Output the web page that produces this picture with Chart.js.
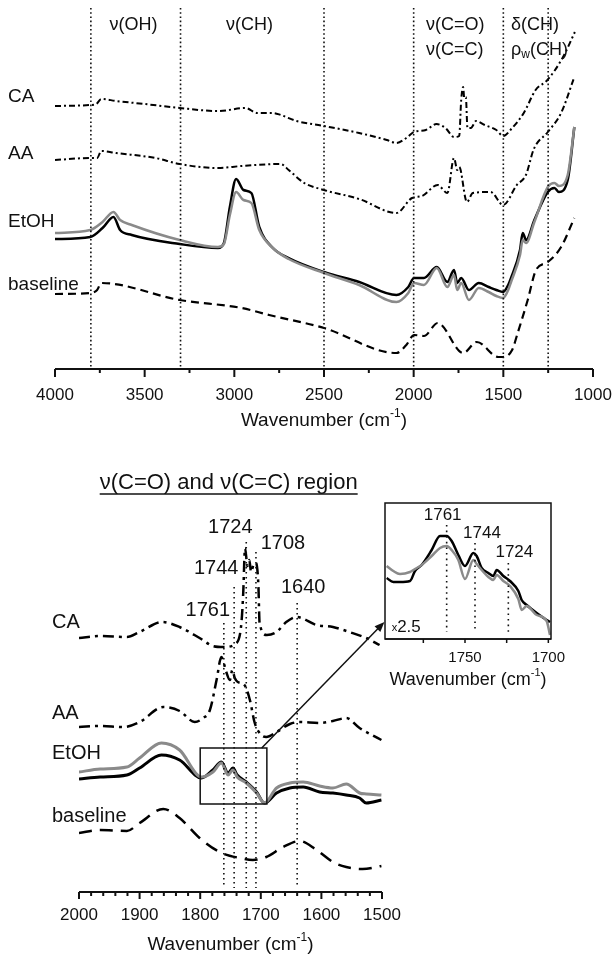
<!DOCTYPE html>
<html>
<head>
<meta charset="utf-8">
<script src="https://cdn.jsdelivr.net/npm/chart.js@4.4.1/dist/chart.umd.min.js"></script>
<style>
  body { margin: 0; background: #fff; }
  #wrap { position: relative; width: 612px; height: 957px; overflow: hidden; }
  canvas { position: absolute; }
</style>
</head>
<body>
<div id="wrap">
  <canvas id="topChart" style="left:0;top:0;width:612px;height:440px" width="612" height="440"></canvas>
  <canvas id="bottomChart" style="left:0;top:440px;width:612px;height:517px" width="612" height="517"></canvas>
  <canvas id="insetChart" style="left:360px;top:482px;width:252px;height:220px" width="252" height="220"></canvas>
</div>
<script>
// ---- data: top panel (full range), offset absorbance in a.u.

const topCAWn = [4000, 3803, 3770, 3742, 3659, 3500, 3305, 3091, 2938, 2872, 2785, 2741, 2653, 2500, 2304, 2150, 2096, 2041, 1998, 1932, 1873, 1823, 1775, 1746, 1735, 1724, 1718, 1709, 1700, 1681, 1652, 1604, 1539, 1501, 1451, 1386, 1320, 1254, 1167, 1101];
const topCA = [2.63, 2.64, 2.65, 2.70, 2.68, 2.65, 2.61, 2.58, 2.61, 2.56, 2.56, 2.54, 2.48, 2.43, 2.36, 2.29, 2.26, 2.31, 2.37, 2.39, 2.45, 2.41, 2.32, 2.33, 2.69, 2.82, 2.71, 2.72, 2.41, 2.41, 2.48, 2.44, 2.39, 2.33, 2.41, 2.56, 2.79, 2.89, 3.12, 3.37];

const topAAWn = [4000, 3803, 3765, 3742, 3659, 3440, 3305, 3091, 2959, 2741, 2697, 2610, 2500, 2304, 2096, 2009, 1954, 1866, 1812, 1775, 1757, 1746, 1703, 1670, 1571, 1501, 1425, 1374, 1330, 1252, 1178, 1104];
const topAA = [2.09, 2.11, 2.11, 2.18, 2.16, 2.11, 2.05, 2.01, 2.03, 2.05, 1.99, 1.86, 1.79, 1.70, 1.56, 1.71, 1.73, 1.84, 1.76, 2.11, 1.99, 2.02, 1.67, 1.76, 1.77, 1.64, 1.84, 1.94, 2.20, 2.37, 2.56, 2.92];

const topEtWn = [4000, 3803, 3735, 3674, 3637, 3572, 3305, 3091, 3058, 3025, 2990, 2949, 2905, 2861, 2785, 2697, 2500, 2304, 2096, 2030, 1998, 1943, 1871, 1812, 1775, 1757, 1735, 1692, 1637, 1582, 1539, 1501, 1473, 1457, 1407, 1392, 1373, 1327, 1252, 1215, 1190, 1141, 1104];
const topEtBlack = [1.30, 1.32, 1.41, 1.52, 1.39, 1.34, 1.25, 1.21, 1.26, 1.62, 1.90, 1.79, 1.76, 1.42, 1.21, 1.11, 0.97, 0.87, 0.74, 0.82, 0.91, 0.91, 1.02, 0.87, 0.99, 0.86, 0.91, 0.79, 0.86, 0.82, 0.79, 0.77, 0.84, 0.91, 1.19, 1.36, 1.29, 1.49, 1.77, 1.81, 1.77, 1.89, 2.42];
const topEtGrey = [1.36, 1.39, 1.47, 1.57, 1.49, 1.44, 1.29, 1.22, 1.25, 1.54, 1.77, 1.69, 1.66, 1.39, 1.21, 1.10, 0.96, 0.84, 0.67, 0.76, 0.86, 0.84, 1.01, 0.82, 0.94, 0.79, 0.86, 0.69, 0.81, 0.77, 0.73, 0.71, 0.79, 0.87, 1.14, 1.29, 1.26, 1.47, 1.82, 1.86, 1.83, 1.94, 2.42];

const topBaseWn = [4000, 3803, 3765, 3742, 3305, 2959, 2806, 2500, 2096, 2041, 1998, 1943, 1866, 1724, 1648, 1528, 1503, 1451, 1420, 1364, 1318, 1252, 1178, 1104];
const topBase = [0.75, 0.76, 0.79, 0.86, 0.69, 0.61, 0.54, 0.41, 0.16, 0.24, 0.34, 0.33, 0.46, 0.16, 0.27, 0.12, 0.12, 0.19, 0.36, 0.69, 0.99, 1.07, 1.22, 1.51];

const topTicks = [4000, 3500, 3000, 2500, 2000, 1500, 1000];
const topMinorTicks = [3750, 3250, 2750, 2250, 1750, 1250];
const topGuides = [3800, 3300, 2500, 2000, 1500, 1250];

// ---- data: bottom panel, v(C=O) and v(C=C) region

const botCAWn = [2000, 1965, 1921, 1900, 1863, 1834, 1801, 1779, 1761, 1740, 1732, 1729, 1726, 1722, 1719, 1716, 1712, 1708, 1704, 1702, 1690, 1674, 1658, 1641, 1608, 1581, 1554, 1526, 1504];
const botCA = [2.54, 2.56, 2.55, 2.60, 2.70, 2.65, 2.54, 2.46, 2.45, 2.49, 2.69, 2.99, 3.44, 3.26, 3.32, 3.20, 3.27, 3.29, 3.07, 2.69, 2.57, 2.60, 2.70, 2.75, 2.67, 2.65, 2.60, 2.54, 2.47];

const botAAWn = [2000, 1965, 1927, 1900, 1861, 1834, 1809, 1795, 1784, 1773, 1765, 1757, 1751, 1747, 1743, 1738, 1727, 1718, 1710, 1699, 1691, 1674, 1652, 1636, 1603, 1581, 1559, 1537, 1501];
const botAA = [1.65, 1.66, 1.65, 1.70, 1.85, 1.81, 1.70, 1.74, 1.82, 2.12, 2.35, 2.20, 2.12, 2.22, 2.14, 2.10, 2.07, 1.92, 1.69, 1.57, 1.55, 1.60, 1.68, 1.70, 1.69, 1.71, 1.74, 1.64, 1.52];

const botEtWn = [2000, 1965, 1921, 1900, 1864, 1834, 1798, 1779, 1765, 1754, 1746, 1739, 1724, 1707, 1694, 1674, 1652, 1630, 1603, 1581, 1559, 1537, 1526, 1501];
const botEtBlack = [1.13, 1.15, 1.17, 1.24, 1.37, 1.32, 1.14, 1.22, 1.30, 1.19, 1.24, 1.17, 1.10, 1.00, 0.89, 0.99, 1.04, 1.05, 1.00, 0.99, 0.97, 0.94, 0.89, 0.92];
const botEtGrey = [1.20, 1.23, 1.25, 1.34, 1.49, 1.42, 1.15, 1.20, 1.29, 1.17, 1.22, 1.15, 1.09, 0.99, 0.89, 1.04, 1.09, 1.10, 1.06, 1.04, 1.08, 0.99, 0.98, 0.97];

const botBaseWn = [2000, 1965, 1921, 1900, 1861, 1834, 1801, 1768, 1735, 1713, 1691, 1663, 1636, 1608, 1581, 1559, 1532, 1501];
const botBase = [0.59, 0.62, 0.61, 0.69, 0.83, 0.74, 0.54, 0.40, 0.34, 0.32, 0.35, 0.45, 0.51, 0.42, 0.30, 0.25, 0.23, 0.26];

const botTicks = [2000, 1900, 1800, 1700, 1600, 1500];
const botMinorTicks = [1980, 1960, 1940, 1920, 1880, 1860, 1840, 1820, 1780, 1760, 1740, 1720, 1680, 1660, 1640, 1620, 1580, 1560, 1540, 1520];
const botPeaks = [1761, 1744, 1724, 1708, 1640];
const botPeakTop = [2.69, 3.05, 3.50, 3.40, 2.89];
const botPeakLabelY = [2.82, 3.24, 3.65, 3.49, 3.05];
const botPeakLabelDx = [-16, -18, -16, 27, 6];

// ---- data: inset (x2.5), EtOH only

const insetWn = [1797, 1793, 1789, 1783, 1780, 1776, 1770, 1765, 1761, 1758, 1754, 1750, 1745, 1743, 1740, 1736, 1733, 1731, 1727, 1723, 1718, 1716, 1713, 1707, 1701, 1699];
const insetBlack = [0.61, 0.57, 0.57, 0.58, 0.68, 0.74, 0.89, 1.03, 1.03, 0.98, 0.84, 0.73, 0.86, 0.83, 0.71, 0.66, 0.63, 0.69, 0.63, 0.58, 0.48, 0.39, 0.34, 0.26, 0.19, 0.17];
const insetGrey = [0.73, 0.68, 0.65, 0.67, 0.70, 0.74, 0.83, 0.91, 0.93, 0.89, 0.79, 0.60, 0.79, 0.75, 0.69, 0.62, 0.59, 0.64, 0.58, 0.53, 0.40, 0.29, 0.33, 0.24, 0.18, 0.04];
const insetTicks = [1750, 1700];
const insetMinorTicks = [1775, 1725];
const insetPeaks = [1761, 1744, 1724];
const insetPeakTop = [1.14, 0.96, 0.76];
const insetPeakLabelY = [1.24, 1.06, 0.87];
const insetPeakLabelDx = [-4, 7, 6];

// ----

const FONT = '"Liberation Sans", Arial, sans-serif';
const INK = "#111";
const GREY = "#8a8a8a";

function series(wn, vals) {
  return wn.map((w, i) => ({ x: w, y: vals[i] }));
}

function line(data, color, width, dash) {
  return {
    data,
    borderColor: color,
    borderWidth: width,
    borderDash: dash || [],
    pointRadius: 0,
    fill: false,
    cubicInterpolationMode: "monotone",
  };
}

// draws text made of pieces [text, size, dy]
function drawRich(ctx, parts, x, y, align) {
  let w = 0;
  parts.forEach((p) => {
    ctx.font = p[1] + "px " + FONT;
    w += ctx.measureText(p[0]).width;
  });
  let cx = align === "center" ? x - w / 2 : x;
  ctx.textAlign = "left";
  ctx.textBaseline = "middle";
  ctx.fillStyle = INK;
  parts.forEach((p) => {
    ctx.font = p[1] + "px " + FONT;
    ctx.fillText(p[0], cx, y + (p[2] || 0));
    cx += ctx.measureText(p[0]).width;
  });
  return w;
}

// axis line, major/minor tick marks and tick labels, placed with the x scale
function drawAxis(chart, major, minor, majorLen, minorLen, width, labelSize, labelDy) {
  const ctx = chart.ctx;
  const x = chart.scales.x;
  const a = chart.chartArea;
  ctx.save();
  ctx.strokeStyle = INK;
  ctx.lineWidth = width;
  ctx.setLineDash([]);
  ctx.beginPath();
  ctx.moveTo(a.left, a.bottom);
  ctx.lineTo(a.right, a.bottom);
  major.forEach((v) => {
    const px = x.getPixelForValue(v);
    ctx.moveTo(px, a.bottom);
    ctx.lineTo(px, a.bottom + majorLen);
  });
  minor.forEach((v) => {
    const px = x.getPixelForValue(v);
    ctx.moveTo(px, a.bottom);
    ctx.lineTo(px, a.bottom + minorLen);
  });
  ctx.stroke();
  ctx.restore();
  major.forEach((v) => {
    drawRich(ctx, [[String(v), labelSize]], x.getPixelForValue(v), a.bottom + labelDy, "center");
  });
}

function drawTitle(chart, dy, size) {
  const a = chart.chartArea;
  drawRich(chart.ctx, [["Wavenumber (cm", size], ["-1", Math.round(size * 0.62), -7], [")", size]], (a.left + a.right) / 2, a.bottom + dy, "center");
}

function drawGuide(chart, wn, from, to, dash) {
  const ctx = chart.ctx;
  const px = chart.scales.x.getPixelForValue(wn);
  ctx.save();
  ctx.strokeStyle = INK;
  ctx.lineWidth = 1.6;
  ctx.setLineDash(dash);
  ctx.beginPath();
  ctx.moveTo(px, chart.scales.y.getPixelForValue(from));
  ctx.lineTo(px, chart.scales.y.getPixelForValue(to));
  ctx.stroke();
  ctx.restore();
}

function baseOptions(xmin, xmax, ymax, axisHeight, padding) {
  return {
    responsive: false,
    animation: false,
    devicePixelRatio: 1,
    layout: { padding },
    plugins: { legend: { display: false }, tooltip: { enabled: false } },
    scales: {
      x: {
        type: "linear",
        reverse: true,
        min: xmin,
        max: xmax,
        grid: { display: false },
        border: { display: false },
        ticks: { display: false },
        afterFit: (s) => { s.height = axisHeight; },
      },
      y: { display: false, min: 0, max: ymax },
    },
  };
}

// ---- top chart

const topDecor = {
  id: "topDecor",
  afterDatasetsDraw(chart) {
    const ctx = chart.ctx;
    const x = chart.scales.x;
    const y = chart.scales.y;
    topGuides.forEach((g) => drawGuide(chart, g, 3.61, 0, [1.6, 2.6]));
    drawAxis(chart, topTicks, topMinorTicks, 8, 4, 2, 17, 26);
    drawTitle(chart, 52, 19);

    const left = 8;
    [["CA", 2.72], ["AA", 2.15], ["EtOH", 1.47], ["baseline", 0.84]].forEach((l) => {
      drawRich(ctx, [[l[0], 19]], left, y.getPixelForValue(l[1]), "left");
    });

    drawRich(ctx, [["ν(OH)", 18]], x.getPixelForValue(3562), y.getPixelForValue(3.44), "center");
    drawRich(ctx, [["ν(CH)", 18]], x.getPixelForValue(2915), y.getPixelForValue(3.44), "center");
    drawRich(ctx, [["ν(C=O)", 18]], x.getPixelForValue(1931), y.getPixelForValue(3.44), "left");
    drawRich(ctx, [["ν(C=C)", 18]], x.getPixelForValue(1931), y.getPixelForValue(3.19), "left");
    drawRich(ctx, [["δ(CH)", 18]], x.getPixelForValue(1457), y.getPixelForValue(3.44), "left");
    drawRich(ctx, [["ρ", 18], ["w", 12, 5], ["(CH)", 18]], x.getPixelForValue(1457), y.getPixelForValue(3.19), "left");
  },
};

new Chart(document.getElementById("topChart"), {
  type: "line",
  data: {
    datasets: [
      line(series(topCAWn, topCA), "#000", 2, [6, 3, 2, 3]),
      line(series(topAAWn, topAA), "#000", 2, [6, 3, 2, 3]),
      line(series(topEtWn, topEtGrey), GREY, 2.5),
      line(series(topEtWn, topEtBlack), "#000", 2.5),
      line(series(topBaseWn, topBase), "#000", 2.2, [8, 5]),
    ],
  },
  options: baseOptions(1000, 4000, 3.61, 71, { left: 55, right: 19, top: 8, bottom: 0 }),
  plugins: [topDecor],
});

// ---- inset chart

const insetDecor = {
  id: "insetDecor",
  afterDatasetsDraw(chart) {
    const ctx = chart.ctx;
    const a = chart.chartArea;
    const x = chart.scales.x;
    const y = chart.scales.y;
    insetPeaks.forEach((p, i) => {
      drawGuide(chart, p, insetPeakTop[i], 0.07, [1.6, 4]);
      drawRich(ctx, [[String(p), 17]], x.getPixelForValue(p) + insetPeakLabelDx[i], y.getPixelForValue(insetPeakLabelY[i]), "center");
    });
    ctx.save();
    ctx.strokeStyle = INK;
    ctx.lineWidth = 1.5;
    ctx.strokeRect(a.left, a.top, a.right - a.left, a.bottom - a.top);
    ctx.restore();
    drawAxis(chart, insetTicks, insetMinorTicks, 4, 4, 1.5, 15, 19);
    drawTitle(chart, 41, 18);
    drawRich(ctx, [["x", 11, 1], ["2.5", 17]], x.getPixelForValue(1794), y.getPixelForValue(0.12), "left");
  },
};

const insetChart = new Chart(document.getElementById("insetChart"), {
  type: "line",
  data: {
    datasets: [
      line(series(insetWn, insetGrey), GREY, 2.5),
      line(series(insetWn, insetBlack), "#000", 2.5),
    ],
  },
  options: baseOptions(1698.4, 1798, 1.36, 63, { left: 25, right: 61, top: 21, bottom: 0 }),
  plugins: [insetDecor],
});

// ---- bottom chart

const bottomDecor = {
  id: "bottomDecor",
  afterDatasetsDraw(chart) {
    const ctx = chart.ctx;
    const x = chart.scales.x;
    const y = chart.scales.y;
    botPeaks.forEach((p, i) => {
      drawGuide(chart, p, botPeakTop[i], 0.04, [1.6, 3.4]);
      drawRich(ctx, [[String(p), 20]], x.getPixelForValue(p) + botPeakLabelDx[i], y.getPixelForValue(botPeakLabelY[i]), "center");
    });
    drawAxis(chart, botTicks, botMinorTicks, 7, 4, 2, 17, 23);
    drawTitle(chart, 53, 19);

    const left = 52;
    [["CA", 2.70], ["AA", 1.79], ["EtOH", 1.39], ["baseline", 0.76]].forEach((l) => {
      drawRich(ctx, [[l[0], 20]], left, y.getPixelForValue(l[1]), "left");
    });

    // underlined region title
    const tx = x.getPixelForValue(1753);
    const ty = y.getPixelForValue(4.09);
    const tw = drawRich(ctx, [["ν(C=O) and ν(C=C) region", 22]], tx, ty, "center");
    ctx.save();
    ctx.strokeStyle = INK;
    ctx.lineWidth = 1.5;
    ctx.beginPath();
    ctx.moveTo(tx - tw / 2, ty + 11);
    ctx.lineTo(tx + tw / 2, ty + 11);
    ctx.stroke();

    // zoom box and arrow to the inset
    const x1 = x.getPixelForValue(1800);
    const x2 = x.getPixelForValue(1690);
    const y1 = y.getPixelForValue(1.44);
    const y2 = y.getPixelForValue(0.88);
    ctx.lineWidth = 1.5;
    ctx.strokeRect(x1, y1, x2 - x1, y2 - y1);

    const sx = x.getPixelForValue(1698.5);
    const sy = y1;
    const ex = x.getPixelForValue(1496);
    const ey = y.getPixelForValue(2.70);
    const ang = Math.atan2(ey - sy, ex - sx);
    ctx.beginPath();
    ctx.moveTo(sx, sy);
    ctx.lineTo(ex - 7 * Math.cos(ang), ey - 7 * Math.sin(ang));
    ctx.stroke();
    ctx.fillStyle = INK;
    ctx.beginPath();
    ctx.moveTo(ex, ey);
    ctx.lineTo(ex - 10 * Math.cos(ang) + 4 * Math.sin(ang), ey - 10 * Math.sin(ang) - 4 * Math.cos(ang));
    ctx.lineTo(ex - 10 * Math.cos(ang) - 4 * Math.sin(ang), ey - 10 * Math.sin(ang) + 4 * Math.cos(ang));
    ctx.closePath();
    ctx.fill();
    ctx.restore();
  },
};

new Chart(document.getElementById("bottomChart"), {
  type: "line",
  data: {
    datasets: [
      line(series(botCAWn, botCA), "#000", 2.5, [11, 5, 3, 5]),
      line(series(botAAWn, botAA), "#000", 2.5, [11, 5, 3, 5]),
      line(series(botEtWn, botEtGrey), GREY, 3),
      line(series(botEtWn, botEtBlack), "#000", 3),
      line(series(botBaseWn, botBase), "#000", 2.5, [13, 8]),
    ],
  },
  options: baseOptions(1500, 2000, 3.92, 65, { left: 79, right: 230, top: 60, bottom: 0 }),
  plugins: [bottomDecor],
});
</script>
</body>
</html>
